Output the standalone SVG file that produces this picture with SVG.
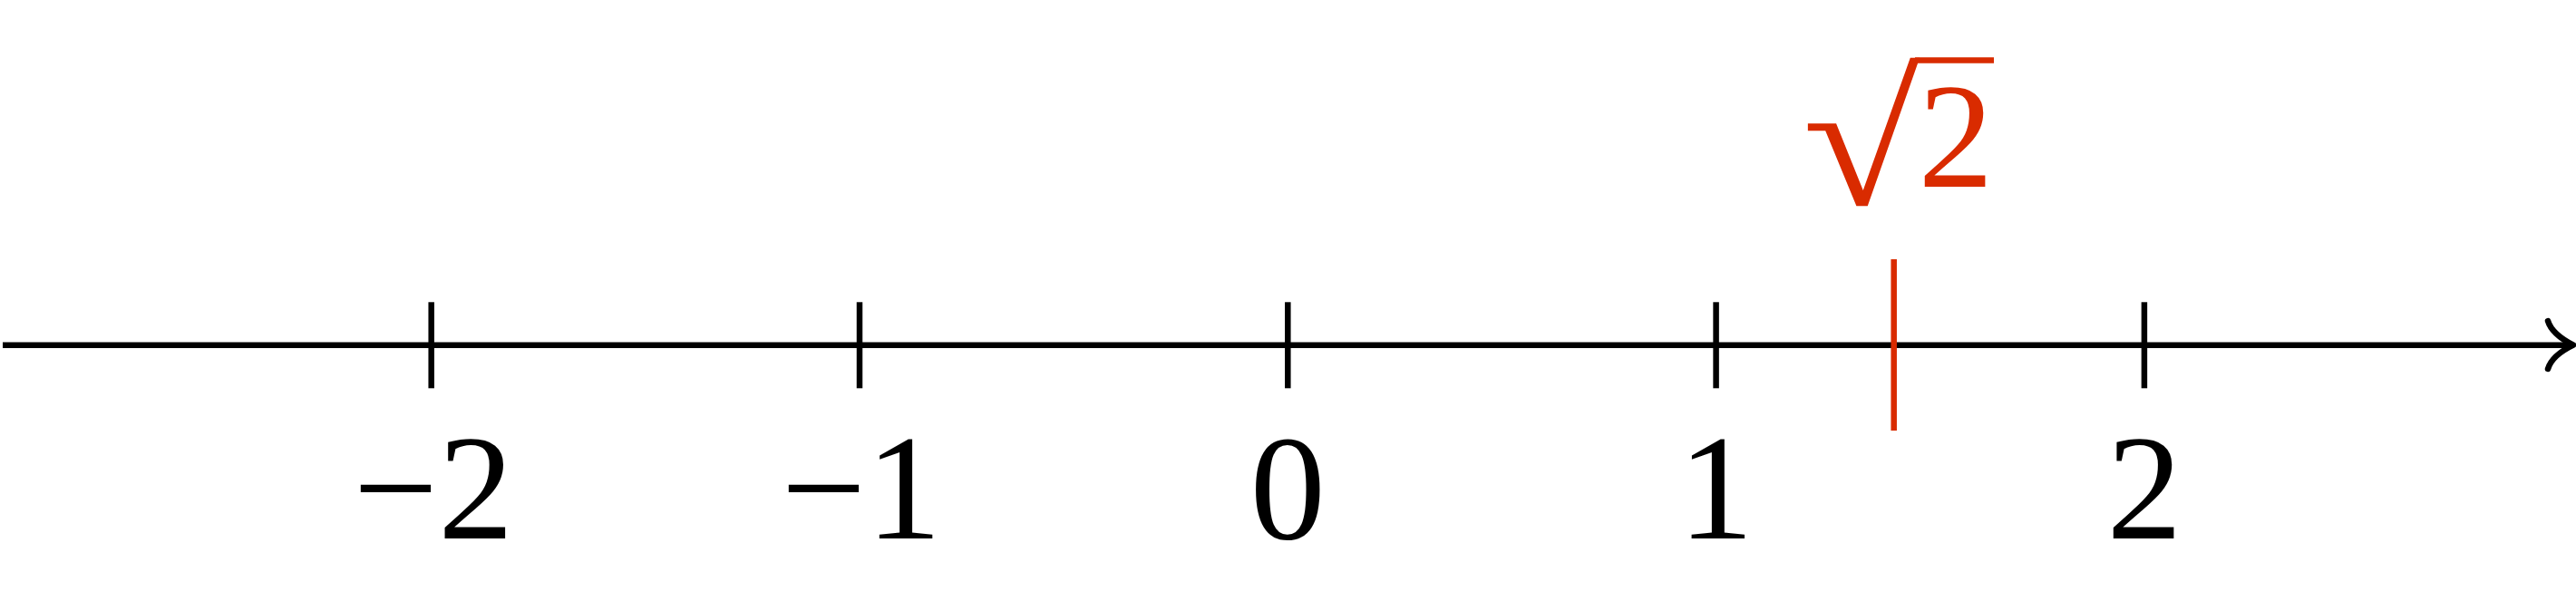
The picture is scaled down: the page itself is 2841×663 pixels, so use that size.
<svg xmlns="http://www.w3.org/2000/svg" width="2841" height="663" viewBox="0 0 2841 663">
<style>
.ax{stroke:#000;stroke-width:6.5;fill:none}
.tk{stroke:#000;stroke-width:6.5}
.lbl{font-family:'Liberation Serif','Times New Roman',serif;font-size:166px;fill:#000;text-anchor:middle}
.red{fill:#d92b00;font-family:'Liberation Serif','Times New Roman',serif}
</style>
<rect width="2841" height="663" fill="#fff"/>
<g id="connectors">
<line class="ax" x1="3" y1="380.7" x2="2836" y2="380.7"/>
<path class="ax" stroke-linecap="round" stroke-linejoin="round" d="M2810 354 C2813 364 2823 373 2838 380.7 C2823 388 2813 397 2810 407"/>
</g>
<g id="tick-m2"><line class="tk" x1="475.7" y1="333.3" x2="475.7" y2="428.3"/><text class="lbl" x="478" y="594">−2</text></g>
<g id="tick-m1"><line class="tk" x1="948" y1="333.3" x2="948" y2="428.3"/><text class="lbl" x="950" y="594">−1</text></g>
<g id="tick-0"><line class="tk" x1="1420.3" y1="333.3" x2="1420.3" y2="428.3"/><text class="lbl" x="1420.3" y="594">0</text></g>
<g id="tick-1"><line class="tk" x1="1892.6" y1="333.3" x2="1892.6" y2="428.3"/><text class="lbl" x="1892.6" y="594">1</text></g>
<g id="tick-2"><line class="tk" x1="2364.9" y1="333.3" x2="2364.9" y2="428.3"/><text class="lbl" x="2364.9" y="594">2</text></g>
<g id="sqrt2">
<line x1="2088.7" y1="286" x2="2088.7" y2="475" stroke="#d92b00" stroke-width="6.5"/>
<text class="red" transform="translate(1988 226) scale(1.15 1)" x="0" y="0" font-size="205">√</text>
<line x1="2112" y1="66.5" x2="2199" y2="66.5" stroke="#d92b00" stroke-width="6.5"/>
<text class="red" x="2157" y="206" font-size="166" text-anchor="middle">2</text>
</g>
</svg>
